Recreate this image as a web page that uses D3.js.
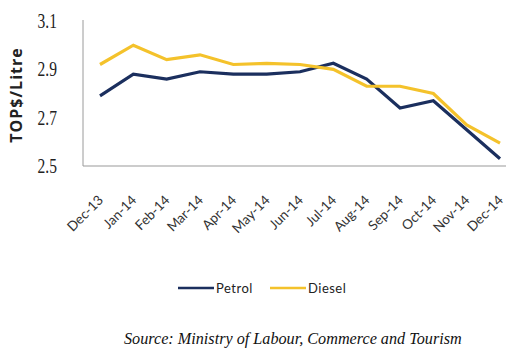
<!DOCTYPE html>
<html>
<head>
<meta charset="utf-8">
<script src="https://cdn.jsdelivr.net/npm/d3@7/dist/d3.min.js"></script>
<style>
  html, body { margin: 0; padding: 0; background: #fff; }
  svg { display: block; }
</style>
</head>
<body>
<svg id="chart" width="506" height="354"></svg>
<script>
const months = ["Dec-13","Jan-14","Feb-14","Mar-14","Apr-14","May-14","Jun-14","Jul-14","Aug-14","Sep-14","Oct-14","Nov-14","Dec-14"];
const petrol = [2.79, 2.88, 2.86, 2.89, 2.88, 2.88, 2.89, 2.925, 2.86, 2.74, 2.77, 2.65, 2.53];
const diesel = [2.92, 3.00, 2.94, 2.96, 2.92, 2.925, 2.92, 2.90, 2.83, 2.83, 2.80, 2.67, 2.595];
const yTicks = [2.5, 2.7, 2.9, 3.1];
const seriesNames = ["Petrol", "Diesel"];
const seriesColors = ["#1b2f5e", "#f4c22b"];

const svg = d3.select("#chart");
const plotLeft = 83, plotTop = 21, plotBottom = 166;

const x = d3.scalePoint().domain(months).range([100, 500]);
const y = d3.scaleLinear().domain([2.5, 3.1]).range([plotBottom, plotTop]);

// axes lines
svg.append("line").attr("x1", plotLeft).attr("x2", plotLeft)
  .attr("y1", plotTop - 1).attr("y2", plotBottom)
  .attr("stroke", "#9a9a9a").attr("stroke-width", 1);
svg.append("line").attr("x1", plotLeft).attr("x2", 506)
  .attr("y1", plotBottom).attr("y2", plotBottom)
  .attr("stroke", "#9a9a9a").attr("stroke-width", 1.2);

// y tick labels
svg.append("g").selectAll("text").data(yTicks).join("text")
  .attr("transform", d => `translate(57,${y(d) + 7}) scale(0.74,1)`)
  .attr("text-anchor", "end")
  .attr("font-family", "Liberation Serif")
  .attr("font-size", 21)
  .attr("fill", "#222")
  .text(d => d.toFixed(1));

// y title
svg.append("text")
  .attr("transform", `translate(22,95) rotate(-90)`)
  .attr("text-anchor", "middle")
  .attr("font-family", "Open Sans")
  .attr("font-weight", "bold")
  .attr("font-size", 16)
  .attr("letter-spacing", 1)
  .attr("fill", "#222")
  .text("TOP$/Litre");

// x tick labels
svg.append("g").selectAll("text").data(months).join("text")
  .attr("transform", d => `translate(${x(d) + 4},201) rotate(-45)`)
  .attr("text-anchor", "end")
  .attr("font-family", "Lato")
  .attr("font-size", 13.5)
  .attr("fill", "#333")
  .text(d => d);

// lines
const line = d3.line().x((d, i) => x(months[i])).y(d => y(d));
[petrol, diesel].forEach((vals, k) => {
  svg.append("path").datum(vals)
    .attr("d", line)
    .attr("fill", "none")
    .attr("stroke", seriesColors[k])
    .attr("stroke-width", 3.2)
    .attr("stroke-linejoin", "miter");
});

// legend
const legendX = [178, 270];
seriesNames.forEach((name, k) => {
  const g = svg.append("g").attr("transform", `translate(${legendX[k]},288)`);
  g.append("line").attr("x1", 0).attr("x2", 36).attr("y1", 0).attr("y2", 0)
    .attr("stroke", seriesColors[k]).attr("stroke-width", 2.5);
  g.append("text").attr("x", 38).attr("y", 4.5)
    .attr("font-family", "Lato").attr("font-size", 13).attr("letter-spacing", 0.5).attr("fill", "#222")
    .text(name);
});

// source
svg.append("text")
  .attr("x", 124).attr("y", 344)
  .attr("font-family", "Liberation Serif")
  .attr("font-style", "italic")
  .attr("font-size", 16.2)
  .attr("fill", "#111")
  .text("Source: Ministry of Labour, Commerce and Tourism");
</script>
</body>
</html>
